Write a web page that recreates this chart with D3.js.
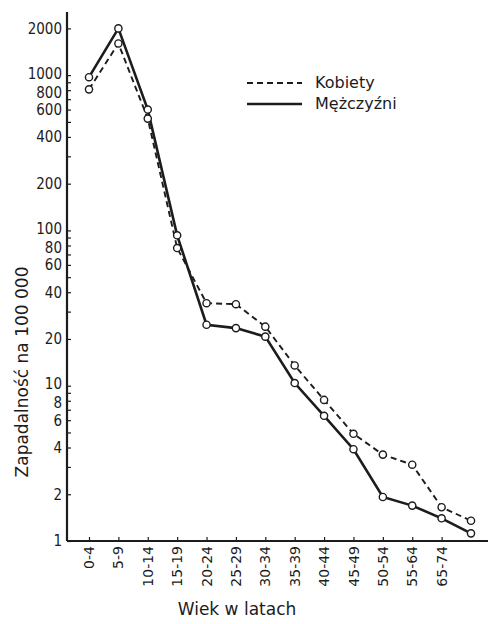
<!DOCTYPE html>
<html>
<head>
<meta charset="utf-8">
<script src="https://cdn.jsdelivr.net/npm/d3@7"></script>
<style>
  html, body { margin: 0; padding: 0; background: #ffffff; }
  svg { display: block; }
  text { font-family: "DejaVu Sans", sans-serif; fill: #1c1c1c; }
</style>
</head>
<body>
<svg id="chart" width="488" height="624"></svg>
<script>
// Age groups shown under the x axis (the last point carries no label)
const ageLabels = ["0-4", "5-9", "10-14", "15-19", "20-24", "25-29", "30-34",
                   "35-39", "40-44", "45-49", "50-54", "55-64", "65-74", ""];

// Incidence per 100 000, by age group
const kobiety   = [810, 1600, 525, 77, 34, 33.5, 24, 13.5, 8.1, 4.9, 3.6, 3.1, 1.65, 1.35];
const mezczyzni = [970, 2000, 600, 93, 24.7, 23.5, 20.7, 10.4, 6.4, 3.9, 1.92, 1.69, 1.4, 1.12];

// Log-axis labels
const yTickLabels = [1, 2, 4, 6, 8, 10, 20, 40, 60, 80, 100, 200, 400, 600, 800, 1000, 2000];

const svg = d3.select("#chart");
const ink = "#1c1c1c";

const x = d3.scalePoint()
  .domain(d3.range(ageLabels.length))
  .range([89, 471]);

const y = d3.scaleLog()
  .domain([1, 2550])
  .range([541, 12]);

const axisX = 67;

// minor ticks: every 1..9 multiple of each decade
const minorTicks = [];
for (let p = 0; p <= 3; p++) {
  for (let m = 1; m <= 9; m++) {
    const v = m * Math.pow(10, p);
    if (v <= 2500) minorTicks.push(v);
  }
}

// y axis
const yAxis = d3.axisRight(y)
  .tickValues(minorTicks)
  .tickSize(4)
  .tickFormat("");
const gy = svg.append("g").attr("transform", `translate(${axisX},0)`).call(yAxis);
gy.select(".domain").remove();
gy.selectAll(".tick line").attr("stroke", ink).attr("stroke-width", 1.2);

svg.append("line")
  .attr("x1", axisX).attr("x2", axisX)
  .attr("y1", y(2550)).attr("y2", y(1))
  .attr("stroke", ink).attr("stroke-width", 2.2);

// labels on the crowded 10/8 pairs are pushed slightly apart
const labelNudge = v => {
  const lead = v / Math.pow(10, Math.floor(Math.log10(v) + 1e-9));
  if (v >= 10 && v <= 1000 && Math.abs(lead - 1) < 1e-9) return -2;
  if (Math.abs(lead - 8) < 1e-9) return 2;
  return 0;
};

svg.append("g").selectAll("text")
  .data(yTickLabels)
  .join("text")
  .attr("x", axisX - 5)
  .attr("y", d => y(d) + labelNudge(d))
  .attr("dy", "0.36em")
  .attr("text-anchor", "end")
  .style("font-family", "'DejaVu Sans Condensed', 'DejaVu Sans', sans-serif")
  .style("font-size", "15px")
  .text(d => d);

// x axis
svg.append("line")
  .attr("x1", axisX).attr("x2", 488)
  .attr("y1", y(1)).attr("y2", y(1))
  .attr("stroke", ink).attr("stroke-width", 2.2);

const xAxis = d3.axisTop(x)
  .tickValues(d3.range(ageLabels.length - 1))
  .tickSize(4)
  .tickFormat("");
const gx = svg.append("g").attr("transform", `translate(0,${y(1)})`).call(xAxis);
gx.select(".domain").remove();
gx.selectAll(".tick line").attr("stroke", ink).attr("stroke-width", 1.2);

svg.append("g").selectAll("text")
  .data(ageLabels.map((t, i) => ({ t, i })).filter(d => d.t))
  .join("text")
  .attr("transform", d => `translate(${x(d.i)},${y(1) + 5}) rotate(-90)`)
  .attr("dy", "0.36em")
  .attr("text-anchor", "end")
  .style("font-size", "14px")
  .text(d => d.t);

// axis titles
svg.append("text")
  .attr("x", 237).attr("y", 615)
  .attr("text-anchor", "middle")
  .style("font-size", "17px")
  .text("Wiek w latach");

svg.append("text")
  .attr("transform", "translate(22,372) rotate(-90)")
  .attr("dy", "0.36em")
  .attr("text-anchor", "middle")
  .style("font-size", "17px")
  .text("Zapadalność na 100 000");

// series
const line = d3.line()
  .x((d, i) => x(i))
  .y(d => y(d));

const series = [
  { name: "Kobiety",   values: kobiety,   width: 1.9, dash: "6,4" },
  { name: "Mężczyźni", values: mezczyzni, width: 2.6, dash: null }
];

series.forEach(s => {
  svg.append("path")
    .datum(s.values)
    .attr("d", line)
    .attr("fill", "none")
    .attr("stroke", ink)
    .attr("stroke-width", s.width)
    .attr("stroke-dasharray", s.dash);
});

series.forEach(s => {
  svg.append("g").selectAll("circle")
    .data(s.values)
    .join("circle")
    .attr("cx", (d, i) => x(i))
    .attr("cy", d => y(d))
    .attr("r", 3.6)
    .attr("fill", "#ffffff")
    .attr("stroke", ink)
    .attr("stroke-width", 1.4);
});

// legend
const legend = svg.append("g");
series.forEach((s, i) => {
  const ly = 83 + i * 21;
  legend.append("line")
    .attr("x1", 247).attr("x2", 302)
    .attr("y1", ly).attr("y2", ly)
    .attr("stroke", ink)
    .attr("stroke-width", s.width)
    .attr("stroke-dasharray", s.dash);
  legend.append("text")
    .attr("x", 315).attr("y", ly - 1)
    .attr("dy", "0.36em")
    .style("font-size", "16px")
    .text(s.name);
});
</script>
</body>
</html>
